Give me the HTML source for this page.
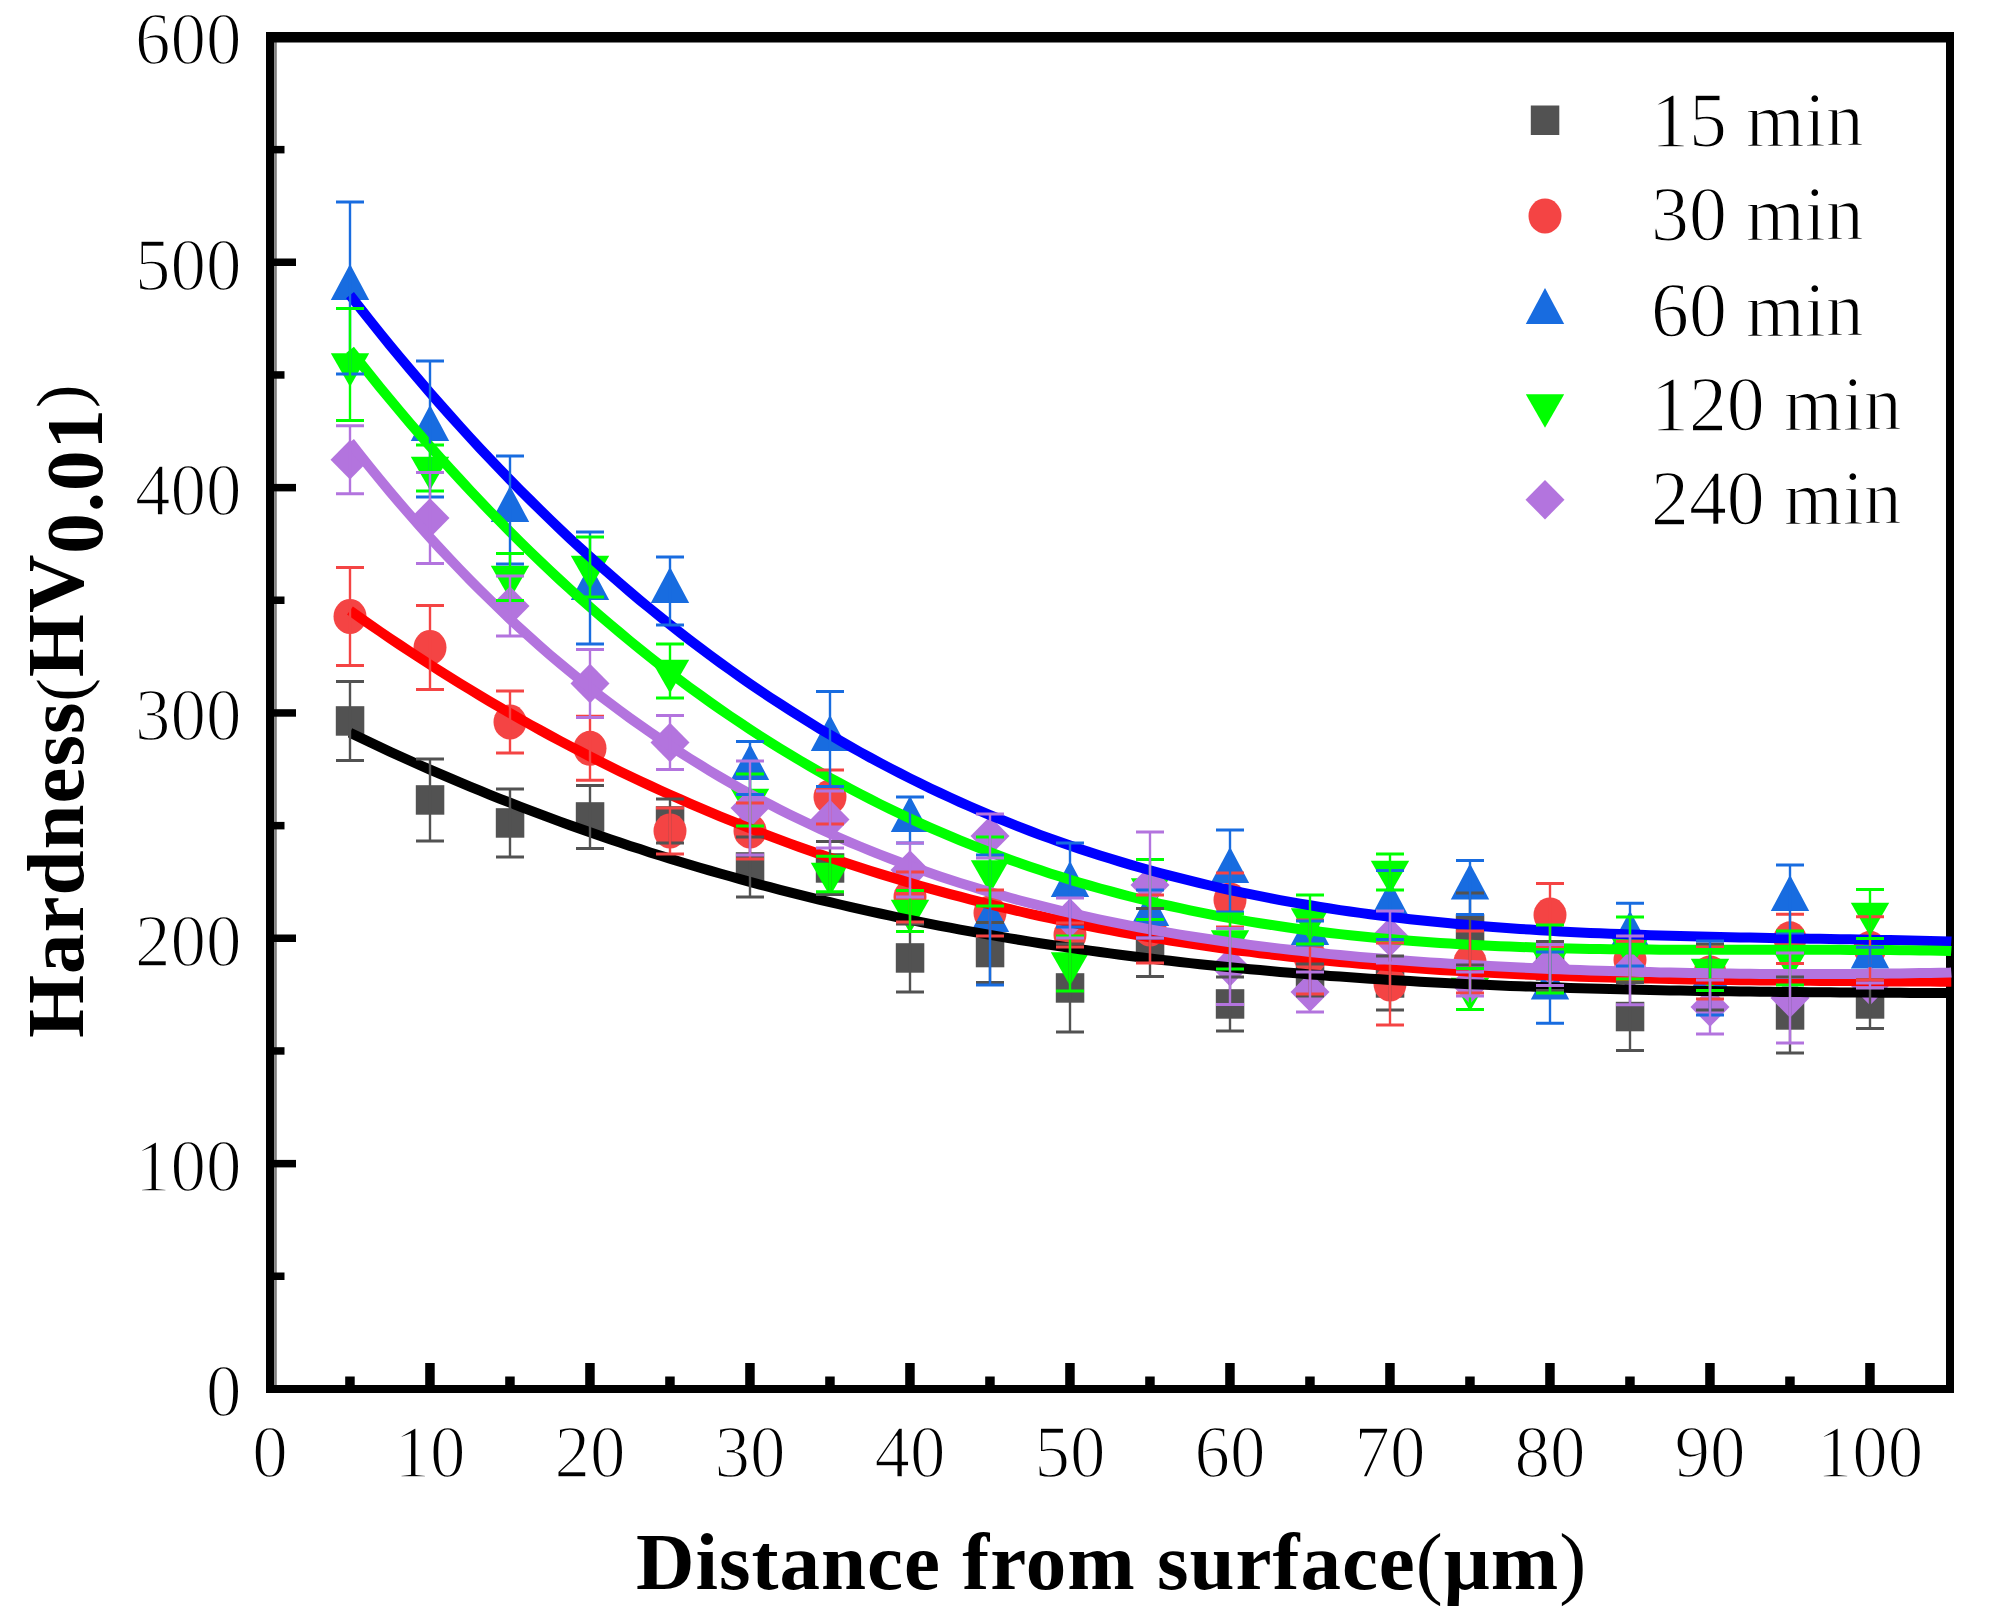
<!DOCTYPE html>
<html><head><meta charset="utf-8"><style>
html,body{margin:0;padding:0;background:#fff;}
svg{display:block;}
.tk{font-family:"Liberation Serif","Times New Roman",serif;font-size:71px;fill:#000;stroke:#fff;stroke-width:1.6px;}
.lg{font-family:"Liberation Serif","Times New Roman",serif;font-size:77px;fill:#000;stroke:#fff;stroke-width:1.4px;}
.ti{font-family:"Liberation Serif","Times New Roman",serif;font-weight:bold;font-size:81px;fill:#000;}
</style></head><body>
<svg width="1991" height="1624" viewBox="0 0 1991 1624">
<rect width="1991" height="1624" fill="#fff"/>
<g fill="#000">
<rect x="266" y="32" width="8.2" height="1361"/><rect x="274.2" y="42" width="2.6" height="1343" fill="#808080"/>
<rect x="266" y="32" width="1688" height="10.5"/>
<rect x="1946" y="32" width="8" height="1361"/>
<rect x="266" y="1385" width="1688" height="8"/>
<rect x="274" y="1272.5" width="10.5" height="7.5"/>
<rect x="274" y="1159.9" width="22" height="7.5"/>
<rect x="274" y="1047.2" width="10.5" height="7.5"/>
<rect x="274" y="934.5" width="22" height="7.5"/>
<rect x="274" y="821.9" width="10.5" height="7.5"/>
<rect x="274" y="709.2" width="22" height="7.5"/>
<rect x="274" y="596.5" width="10.5" height="7.5"/>
<rect x="274" y="483.9" width="22" height="7.5"/>
<rect x="274" y="371.2" width="10.5" height="7.5"/>
<rect x="274" y="258.5" width="22" height="7.5"/>
<rect x="274" y="145.9" width="10.5" height="7.5"/>
<rect x="345.2" y="1376.5" width="9.5" height="8.5"/>
<rect x="425.2" y="1363" width="9.5" height="22"/>
<rect x="505.2" y="1376.5" width="9.5" height="8.5"/>
<rect x="585.2" y="1363" width="9.5" height="22"/>
<rect x="665.2" y="1376.5" width="9.5" height="8.5"/>
<rect x="745.2" y="1363" width="9.5" height="22"/>
<rect x="825.2" y="1376.5" width="9.5" height="8.5"/>
<rect x="905.2" y="1363" width="9.5" height="22"/>
<rect x="985.2" y="1376.5" width="9.5" height="8.5"/>
<rect x="1065.2" y="1363" width="9.5" height="22"/>
<rect x="1145.2" y="1376.5" width="9.5" height="8.5"/>
<rect x="1225.2" y="1363" width="9.5" height="22"/>
<rect x="1305.2" y="1376.5" width="9.5" height="8.5"/>
<rect x="1385.2" y="1363" width="9.5" height="22"/>
<rect x="1465.2" y="1376.5" width="9.5" height="8.5"/>
<rect x="1545.2" y="1363" width="9.5" height="22"/>
<rect x="1625.2" y="1376.5" width="9.5" height="8.5"/>
<rect x="1705.2" y="1363" width="9.5" height="22"/>
<rect x="1785.2" y="1376.5" width="9.5" height="8.5"/>
<rect x="1865.2" y="1363" width="9.5" height="22"/>
</g>
<g><rect x="335.8" y="706.2" width="28.5" height="29.5" fill="#525252"/><rect x="415.8" y="785.2" width="28.5" height="29.5" fill="#525252"/><rect x="495.8" y="808.2" width="28.5" height="29.5" fill="#525252"/><rect x="575.8" y="802.2" width="28.5" height="29.5" fill="#525252"/><rect x="655.8" y="806.2" width="28.5" height="29.5" fill="#525252"/><rect x="735.8" y="852.2" width="28.5" height="29.5" fill="#525252"/><rect x="815.8" y="853.2" width="28.5" height="29.5" fill="#525252"/><rect x="895.8" y="943.2" width="28.5" height="29.5" fill="#525252"/><rect x="975.8" y="937.8" width="28.5" height="29.5" fill="#525252"/><rect x="1055.8" y="973.2" width="28.5" height="29.5" fill="#525252"/><rect x="1135.8" y="927.8" width="28.5" height="29.5" fill="#525252"/><rect x="1215.8" y="989.2" width="28.5" height="29.5" fill="#525252"/><rect x="1295.8" y="965.2" width="28.5" height="29.5" fill="#525252"/><rect x="1375.8" y="968.2" width="28.5" height="29.5" fill="#525252"/><rect x="1455.8" y="914.2" width="28.5" height="29.5" fill="#525252"/><rect x="1535.8" y="951.2" width="28.5" height="29.5" fill="#525252"/><rect x="1615.8" y="1001.8" width="28.5" height="29.5" fill="#525252"/><rect x="1695.8" y="962.2" width="28.5" height="29.5" fill="#525252"/><rect x="1775.8" y="1000.2" width="28.5" height="29.5" fill="#525252"/><rect x="1855.8" y="989.2" width="28.5" height="29.5" fill="#525252"/></g>
<g><ellipse cx="350.0" cy="616.5" rx="16.5" ry="17.5" fill="#f44444"/><ellipse cx="430.0" cy="647.5" rx="16.5" ry="17.5" fill="#f44444"/><ellipse cx="510.0" cy="722.0" rx="16.5" ry="17.5" fill="#f44444"/><ellipse cx="590.0" cy="748.3" rx="16.5" ry="17.5" fill="#f44444"/><ellipse cx="670.0" cy="831.0" rx="16.5" ry="17.5" fill="#f44444"/><ellipse cx="750.0" cy="831.0" rx="16.5" ry="17.5" fill="#f44444"/><ellipse cx="830.0" cy="797.0" rx="16.5" ry="17.5" fill="#f44444"/><ellipse cx="910.0" cy="897.0" rx="16.5" ry="17.5" fill="#f44444"/><ellipse cx="990.0" cy="913.0" rx="16.5" ry="17.5" fill="#f44444"/><ellipse cx="1070.0" cy="935.0" rx="16.5" ry="17.5" fill="#f44444"/><ellipse cx="1150.0" cy="929.0" rx="16.5" ry="17.5" fill="#f44444"/><ellipse cx="1230.0" cy="900.0" rx="16.5" ry="17.5" fill="#f44444"/><ellipse cx="1310.0" cy="957.0" rx="16.5" ry="17.5" fill="#f44444"/><ellipse cx="1390.0" cy="984.0" rx="16.5" ry="17.5" fill="#f44444"/><ellipse cx="1470.0" cy="962.0" rx="16.5" ry="17.5" fill="#f44444"/><ellipse cx="1550.0" cy="915.0" rx="16.5" ry="17.5" fill="#f44444"/><ellipse cx="1630.0" cy="960.0" rx="16.5" ry="17.5" fill="#f44444"/><ellipse cx="1710.0" cy="973.0" rx="16.5" ry="17.5" fill="#f44444"/><ellipse cx="1790.0" cy="938.8" rx="16.5" ry="17.5" fill="#f44444"/><ellipse cx="1870.0" cy="948.3" rx="16.5" ry="17.5" fill="#f44444"/></g>
<g><polygon points="350.0,264.1 369.2,299.9 330.8,299.9" fill="#186ce0"/><polygon points="430.0,405.1 449.2,440.9 410.8,440.9" fill="#186ce0"/><polygon points="510.0,486.1 529.2,521.9 490.8,521.9" fill="#186ce0"/><polygon points="590.0,564.1 609.2,599.9 570.8,599.9" fill="#186ce0"/><polygon points="670.0,567.1 689.2,602.9 650.8,602.9" fill="#186ce0"/><polygon points="750.0,744.1 769.2,779.9 730.8,779.9" fill="#186ce0"/><polygon points="830.0,715.1 849.2,750.9 810.8,750.9" fill="#186ce0"/><polygon points="910.0,796.1 929.2,831.9 890.8,831.9" fill="#186ce0"/><polygon points="990.0,896.1 1009.2,931.9 970.8,931.9" fill="#186ce0"/><polygon points="1070.0,861.1 1089.2,896.9 1050.8,896.9" fill="#186ce0"/><polygon points="1150.0,890.1 1169.2,925.9 1130.8,925.9" fill="#186ce0"/><polygon points="1230.0,847.1 1249.2,882.9 1210.8,882.9" fill="#186ce0"/><polygon points="1310.0,909.1 1329.2,944.9 1290.8,944.9" fill="#186ce0"/><polygon points="1390.0,881.1 1409.2,916.9 1370.8,916.9" fill="#186ce0"/><polygon points="1470.0,863.6 1489.2,899.4 1450.8,899.4" fill="#186ce0"/><polygon points="1550.0,963.8 1569.2,999.6 1530.8,999.6" fill="#186ce0"/><polygon points="1630.0,910.8 1649.2,946.6 1610.8,946.6" fill="#186ce0"/><polygon points="1710.0,954.1 1729.2,989.9 1690.8,989.9" fill="#186ce0"/><polygon points="1790.0,875.1 1809.2,910.9 1770.8,910.9" fill="#186ce0"/><polygon points="1870.0,932.6 1889.2,968.4 1850.8,968.4" fill="#186ce0"/></g>
<g><polygon points="330.8,353.3 369.2,353.3 350.0,386.8" fill="#00ff00"/><polygon points="410.8,456.8 449.2,456.8 430.0,490.3" fill="#00ff00"/><polygon points="490.8,565.8 529.2,565.8 510.0,599.3" fill="#00ff00"/><polygon points="570.8,555.8 609.2,555.8 590.0,589.3" fill="#00ff00"/><polygon points="650.8,659.8 689.2,659.8 670.0,693.3" fill="#00ff00"/><polygon points="730.8,788.8 769.2,788.8 750.0,822.3" fill="#00ff00"/><polygon points="810.8,862.8 849.2,862.8 830.0,896.3" fill="#00ff00"/><polygon points="890.8,899.8 929.2,899.8 910.0,933.3" fill="#00ff00"/><polygon points="970.8,860.3 1009.2,860.3 990.0,893.8" fill="#00ff00"/><polygon points="1050.8,952.3 1089.2,952.3 1070.0,985.8" fill="#00ff00"/><polygon points="1130.8,878.3 1169.2,878.3 1150.0,911.8" fill="#00ff00"/><polygon points="1210.8,930.3 1249.2,930.3 1230.0,963.8" fill="#00ff00"/><polygon points="1290.8,908.3 1329.2,908.3 1310.0,941.8" fill="#00ff00"/><polygon points="1370.8,860.8 1409.2,860.8 1390.0,894.3" fill="#00ff00"/><polygon points="1450.8,977.8 1489.2,977.8 1470.0,1011.3" fill="#00ff00"/><polygon points="1530.8,947.8 1569.2,947.8 1550.0,981.3" fill="#00ff00"/><polygon points="1610.8,936.8 1649.2,936.8 1630.0,970.3" fill="#00ff00"/><polygon points="1690.8,958.8 1729.2,958.8 1710.0,992.3" fill="#00ff00"/><polygon points="1770.8,946.8 1809.2,946.8 1790.0,980.3" fill="#00ff00"/><polygon points="1850.8,902.8 1889.2,902.8 1870.0,936.3" fill="#00ff00"/></g>
<g><polygon points="350.0,439.9 369.5,459.7 350.0,479.4 330.5,459.7" fill="#b374de"/><polygon points="430.0,498.2 449.5,518.0 430.0,537.8 410.5,518.0" fill="#b374de"/><polygon points="510.0,586.2 529.5,606.0 510.0,625.8 490.5,606.0" fill="#b374de"/><polygon points="590.0,663.8 609.5,683.5 590.0,703.2 570.5,683.5" fill="#b374de"/><polygon points="670.0,722.8 689.5,742.5 670.0,762.2 650.5,742.5" fill="#b374de"/><polygon points="750.0,788.2 769.5,808.0 750.0,827.8 730.5,808.0" fill="#b374de"/><polygon points="830.0,799.8 849.5,819.5 830.0,839.2 810.5,819.5" fill="#b374de"/><polygon points="910.0,850.2 929.5,870.0 910.0,889.8 890.5,870.0" fill="#b374de"/><polygon points="990.0,816.2 1009.5,836.0 990.0,855.8 970.5,836.0" fill="#b374de"/><polygon points="1070.0,898.2 1089.5,918.0 1070.0,937.8 1050.5,918.0" fill="#b374de"/><polygon points="1150.0,865.2 1169.5,885.0 1150.0,904.8 1130.5,885.0" fill="#b374de"/><polygon points="1230.0,946.9 1249.5,966.6 1230.0,986.4 1210.5,966.6" fill="#b374de"/><polygon points="1310.0,972.2 1329.5,992.0 1310.0,1011.8 1290.5,992.0" fill="#b374de"/><polygon points="1390.0,917.2 1409.5,937.0 1390.0,956.8 1370.5,937.0" fill="#b374de"/><polygon points="1470.0,964.2 1489.5,984.0 1470.0,1003.8 1450.5,984.0" fill="#b374de"/><polygon points="1550.0,945.2 1569.5,965.0 1550.0,984.8 1530.5,965.0" fill="#b374de"/><polygon points="1630.0,950.5 1649.5,970.3 1630.0,990.0 1610.5,970.3" fill="#b374de"/><polygon points="1710.0,987.2 1729.5,1007.0 1710.0,1026.8 1690.5,1007.0" fill="#b374de"/><polygon points="1790.0,978.2 1809.5,998.0 1790.0,1017.8 1770.5,998.0" fill="#b374de"/><polygon points="1870.0,965.8 1889.5,985.5 1870.0,1005.2 1850.5,985.5" fill="#b374de"/></g>
<path d="M350.0,732.8 L360.0,737.6 L370.0,742.3 L380.0,747.0 L390.0,751.7 L400.0,756.2 L410.0,760.7 L420.0,765.2 L430.0,769.6 L440.0,773.9 L450.0,778.2 L460.0,782.4 L470.0,786.6 L480.0,790.7 L490.0,794.8 L500.0,798.8 L510.0,802.7 L520.0,806.6 L530.0,810.4 L540.0,814.2 L550.0,817.9 L560.0,821.6 L570.0,825.2 L580.0,828.8 L590.0,832.3 L600.0,835.8 L610.0,839.2 L620.0,842.6 L630.0,845.9 L640.0,849.1 L650.0,852.4 L660.0,855.5 L670.0,858.6 L680.0,861.7 L690.0,864.7 L700.0,867.7 L710.0,870.6 L720.0,873.5 L730.0,876.3 L740.0,879.1 L750.0,881.9 L760.0,884.6 L770.0,887.2 L780.0,889.8 L790.0,892.4 L800.0,894.9 L810.0,897.4 L820.0,899.8 L830.0,902.2 L840.0,904.5 L850.0,906.8 L860.0,909.1 L870.0,911.3 L880.0,913.5 L890.0,915.7 L900.0,917.8 L910.0,919.8 L920.0,921.8 L930.0,923.8 L940.0,925.8 L950.0,927.7 L960.0,929.6 L970.0,931.4 L980.0,933.2 L990.0,934.9 L1000.0,936.7 L1010.0,938.4 L1020.0,940.0 L1030.0,941.6 L1040.0,943.2 L1050.0,944.8 L1060.0,946.3 L1070.0,947.8 L1080.0,949.2 L1090.0,950.6 L1100.0,952.0 L1110.0,953.4 L1120.0,954.7 L1130.0,956.0 L1140.0,957.2 L1150.0,958.5 L1160.0,959.7 L1170.0,960.8 L1180.0,962.0 L1190.0,963.1 L1200.0,964.2 L1210.0,965.2 L1220.0,966.3 L1230.0,967.3 L1240.0,968.2 L1250.0,969.2 L1260.0,970.1 L1270.0,971.0 L1280.0,971.9 L1290.0,972.7 L1300.0,973.6 L1310.0,974.4 L1320.0,975.1 L1330.0,975.9 L1340.0,976.6 L1350.0,977.3 L1360.0,978.0 L1370.0,978.7 L1380.0,979.3 L1390.0,979.9 L1400.0,980.5 L1410.0,981.1 L1420.0,981.7 L1430.0,982.2 L1440.0,982.7 L1450.0,983.2 L1460.0,983.7 L1470.0,984.2 L1480.0,984.6 L1490.0,985.1 L1500.0,985.5 L1510.0,985.9 L1520.0,986.3 L1530.0,986.6 L1540.0,987.0 L1550.0,987.3 L1560.0,987.6 L1570.0,988.0 L1580.0,988.3 L1590.0,988.5 L1600.0,988.8 L1610.0,989.1 L1620.0,989.3 L1630.0,989.5 L1640.0,989.8 L1650.0,990.0 L1660.0,990.2 L1670.0,990.4 L1680.0,990.5 L1690.0,990.7 L1700.0,990.9 L1710.0,991.0 L1720.0,991.2 L1730.0,991.3 L1740.0,991.4 L1750.0,991.6 L1760.0,991.7 L1770.0,991.8 L1780.0,991.9 L1790.0,992.0 L1800.0,992.1 L1810.0,992.2 L1820.0,992.3 L1830.0,992.3 L1840.0,992.4 L1850.0,992.5 L1860.0,992.6 L1870.0,992.6 L1880.0,992.7 L1890.0,992.8 L1900.0,992.8 L1910.0,992.9 L1920.0,993.0 L1930.0,993.0 L1940.0,993.1 L1950.0,993.1 L1951.3,993.1" fill="none" stroke="#000000" stroke-width="10" stroke-linejoin="round"/>
<path d="M350.0,610.5 L360.0,617.6 L370.0,624.6 L380.0,631.5 L390.0,638.3 L400.0,645.0 L410.0,651.6 L420.0,658.2 L430.0,664.6 L440.0,671.0 L450.0,677.3 L460.0,683.5 L470.0,689.6 L480.0,695.6 L490.0,701.6 L500.0,707.4 L510.0,713.2 L520.0,718.9 L530.0,724.5 L540.0,730.0 L550.0,735.5 L560.0,740.8 L570.0,746.1 L580.0,751.3 L590.0,756.5 L600.0,761.5 L610.0,766.5 L620.0,771.4 L630.0,776.2 L640.0,781.0 L650.0,785.6 L660.0,790.2 L670.0,794.8 L680.0,799.2 L690.0,803.6 L700.0,807.9 L710.0,812.1 L720.0,816.3 L730.0,820.4 L740.0,824.4 L750.0,828.4 L760.0,832.3 L770.0,836.1 L780.0,839.9 L790.0,843.6 L800.0,847.2 L810.0,850.7 L820.0,854.2 L830.0,857.7 L840.0,861.0 L850.0,864.3 L860.0,867.6 L870.0,870.8 L880.0,873.9 L890.0,876.9 L900.0,879.9 L910.0,882.9 L920.0,885.8 L930.0,888.6 L940.0,891.3 L950.0,894.1 L960.0,896.7 L970.0,899.3 L980.0,901.8 L990.0,904.3 L1000.0,906.8 L1010.0,909.2 L1020.0,911.5 L1030.0,913.8 L1040.0,916.0 L1050.0,918.2 L1060.0,920.3 L1070.0,922.4 L1080.0,924.4 L1090.0,926.4 L1100.0,928.3 L1110.0,930.2 L1120.0,932.0 L1130.0,933.8 L1140.0,935.6 L1150.0,937.3 L1160.0,938.9 L1170.0,940.5 L1180.0,942.1 L1190.0,943.6 L1200.0,945.1 L1210.0,946.6 L1220.0,948.0 L1230.0,949.3 L1240.0,950.7 L1250.0,951.9 L1260.0,953.2 L1270.0,954.4 L1280.0,955.6 L1290.0,956.7 L1300.0,957.8 L1310.0,958.9 L1320.0,959.9 L1330.0,960.9 L1340.0,961.9 L1350.0,962.8 L1360.0,963.7 L1370.0,964.6 L1380.0,965.4 L1390.0,966.2 L1400.0,967.0 L1410.0,967.8 L1420.0,968.5 L1430.0,969.2 L1440.0,969.9 L1450.0,970.5 L1460.0,971.1 L1470.0,971.7 L1480.0,972.3 L1490.0,972.8 L1500.0,973.3 L1510.0,973.8 L1520.0,974.3 L1530.0,974.7 L1540.0,975.1 L1550.0,975.6 L1560.0,975.9 L1570.0,976.3 L1580.0,976.7 L1590.0,977.0 L1600.0,977.3 L1610.0,977.6 L1620.0,977.9 L1630.0,978.1 L1640.0,978.4 L1650.0,978.6 L1660.0,978.8 L1670.0,979.0 L1680.0,979.2 L1690.0,979.4 L1700.0,979.6 L1710.0,979.7 L1720.0,979.9 L1730.0,980.0 L1740.0,980.2 L1750.0,980.3 L1760.0,980.4 L1770.0,980.5 L1780.0,980.6 L1790.0,980.7 L1800.0,980.8 L1810.0,980.8 L1820.0,980.9 L1830.0,981.0 L1840.0,981.1 L1850.0,981.1 L1860.0,981.2 L1870.0,981.3 L1880.0,981.3 L1890.0,981.4 L1900.0,981.4 L1910.0,981.5 L1920.0,981.6 L1930.0,981.6 L1940.0,981.7 L1950.0,981.8 L1951.3,981.8" fill="none" stroke="#ff0000" stroke-width="10" stroke-linejoin="round"/>
<path d="M350.0,295.1 L360.0,307.9 L370.0,320.5 L380.0,333.0 L390.0,345.3 L400.0,357.4 L410.0,369.3 L420.0,381.1 L430.0,392.7 L440.0,404.1 L450.0,415.4 L460.0,426.5 L470.0,437.5 L480.0,448.3 L490.0,458.9 L500.0,469.4 L510.0,479.7 L520.0,489.9 L530.0,499.9 L540.0,509.8 L550.0,519.5 L560.0,529.0 L570.0,538.5 L580.0,547.7 L590.0,556.8 L600.0,565.8 L610.0,574.6 L620.0,583.3 L630.0,591.9 L640.0,600.3 L650.0,608.5 L660.0,616.7 L670.0,624.7 L680.0,632.5 L690.0,640.2 L700.0,647.8 L710.0,655.3 L720.0,662.6 L730.0,669.8 L740.0,676.8 L750.0,683.8 L760.0,690.6 L770.0,697.3 L780.0,703.8 L790.0,710.3 L800.0,716.6 L810.0,722.8 L820.0,728.9 L830.0,734.8 L840.0,740.6 L850.0,746.4 L860.0,752.0 L870.0,757.5 L880.0,762.9 L890.0,768.1 L900.0,773.3 L910.0,778.4 L920.0,783.3 L930.0,788.2 L940.0,792.9 L950.0,797.5 L960.0,802.1 L970.0,806.5 L980.0,810.8 L990.0,815.1 L1000.0,819.2 L1010.0,823.2 L1020.0,827.2 L1030.0,831.0 L1040.0,834.8 L1050.0,838.4 L1060.0,842.0 L1070.0,845.5 L1080.0,848.9 L1090.0,852.2 L1100.0,855.4 L1110.0,858.5 L1120.0,861.6 L1130.0,864.6 L1140.0,867.5 L1150.0,870.3 L1160.0,873.0 L1170.0,875.7 L1180.0,878.2 L1190.0,880.7 L1200.0,883.2 L1210.0,885.5 L1220.0,887.8 L1230.0,890.0 L1240.0,892.2 L1250.0,894.2 L1260.0,896.2 L1270.0,898.2 L1280.0,900.1 L1290.0,901.9 L1300.0,903.6 L1310.0,905.3 L1320.0,907.0 L1330.0,908.5 L1340.0,910.1 L1350.0,911.5 L1360.0,912.9 L1370.0,914.3 L1380.0,915.6 L1390.0,916.8 L1400.0,918.0 L1410.0,919.2 L1420.0,920.3 L1430.0,921.3 L1440.0,922.3 L1450.0,923.3 L1460.0,924.2 L1470.0,925.1 L1480.0,926.0 L1490.0,926.8 L1500.0,927.5 L1510.0,928.2 L1520.0,928.9 L1530.0,929.6 L1540.0,930.2 L1550.0,930.8 L1560.0,931.4 L1570.0,931.9 L1580.0,932.4 L1590.0,932.9 L1600.0,933.3 L1610.0,933.7 L1620.0,934.1 L1630.0,934.5 L1640.0,934.8 L1650.0,935.2 L1660.0,935.5 L1670.0,935.8 L1680.0,936.1 L1690.0,936.3 L1700.0,936.6 L1710.0,936.8 L1720.0,937.0 L1730.0,937.2 L1740.0,937.4 L1750.0,937.6 L1760.0,937.8 L1770.0,938.0 L1780.0,938.2 L1790.0,938.3 L1800.0,938.5 L1810.0,938.7 L1820.0,938.8 L1830.0,939.0 L1840.0,939.2 L1850.0,939.3 L1860.0,939.5 L1870.0,939.7 L1880.0,939.9 L1890.0,940.1 L1900.0,940.3 L1910.0,940.5 L1920.0,940.8 L1930.0,941.0 L1940.0,941.3 L1950.0,941.5 L1951.3,941.6" fill="none" stroke="#0000ff" stroke-width="10" stroke-linejoin="round"/>
<path d="M350.0,349.8 L360.0,362.4 L370.0,374.9 L380.0,387.3 L390.0,399.4 L400.0,411.4 L410.0,423.2 L420.0,434.8 L430.0,446.2 L440.0,457.5 L450.0,468.6 L460.0,479.5 L470.0,490.3 L480.0,500.9 L490.0,511.4 L500.0,521.6 L510.0,531.8 L520.0,541.7 L530.0,551.5 L540.0,561.1 L550.0,570.6 L560.0,580.0 L570.0,589.1 L580.0,598.2 L590.0,607.0 L600.0,615.7 L610.0,624.3 L620.0,632.7 L630.0,641.0 L640.0,649.1 L650.0,657.1 L660.0,665.0 L670.0,672.7 L680.0,680.2 L690.0,687.7 L700.0,694.9 L710.0,702.1 L720.0,709.1 L730.0,716.0 L740.0,722.7 L750.0,729.4 L760.0,735.9 L770.0,742.2 L780.0,748.4 L790.0,754.6 L800.0,760.5 L810.0,766.4 L820.0,772.1 L830.0,777.8 L840.0,783.2 L850.0,788.6 L860.0,793.9 L870.0,799.0 L880.0,804.1 L890.0,809.0 L900.0,813.8 L910.0,818.5 L920.0,823.1 L930.0,827.6 L940.0,831.9 L950.0,836.2 L960.0,840.4 L970.0,844.4 L980.0,848.4 L990.0,852.2 L1000.0,856.0 L1010.0,859.7 L1020.0,863.2 L1030.0,866.7 L1040.0,870.1 L1050.0,873.4 L1060.0,876.6 L1070.0,879.7 L1080.0,882.7 L1090.0,885.6 L1100.0,888.5 L1110.0,891.2 L1120.0,893.9 L1130.0,896.5 L1140.0,899.0 L1150.0,901.4 L1160.0,903.8 L1170.0,906.0 L1180.0,908.2 L1190.0,910.4 L1200.0,912.4 L1210.0,914.4 L1220.0,916.3 L1230.0,918.1 L1240.0,919.9 L1250.0,921.6 L1260.0,923.2 L1270.0,924.8 L1280.0,926.3 L1290.0,927.8 L1300.0,929.2 L1310.0,930.5 L1320.0,931.8 L1330.0,933.0 L1340.0,934.1 L1350.0,935.2 L1360.0,936.3 L1370.0,937.3 L1380.0,938.2 L1390.0,939.1 L1400.0,940.0 L1410.0,940.8 L1420.0,941.6 L1430.0,942.3 L1440.0,943.0 L1450.0,943.6 L1460.0,944.2 L1470.0,944.7 L1480.0,945.3 L1490.0,945.7 L1500.0,946.2 L1510.0,946.6 L1520.0,947.0 L1530.0,947.3 L1540.0,947.7 L1550.0,948.0 L1560.0,948.2 L1570.0,948.5 L1580.0,948.7 L1590.0,948.9 L1600.0,949.0 L1610.0,949.2 L1620.0,949.3 L1630.0,949.4 L1640.0,949.5 L1650.0,949.6 L1660.0,949.7 L1670.0,949.7 L1680.0,949.7 L1690.0,949.8 L1700.0,949.8 L1710.0,949.8 L1720.0,949.8 L1730.0,949.8 L1740.0,949.8 L1750.0,949.8 L1760.0,949.8 L1770.0,949.8 L1780.0,949.8 L1790.0,949.8 L1800.0,949.8 L1810.0,949.8 L1820.0,949.8 L1830.0,949.8 L1840.0,949.8 L1850.0,949.9 L1860.0,949.9 L1870.0,950.0 L1880.0,950.0 L1890.0,950.1 L1900.0,950.2 L1910.0,950.3 L1920.0,950.5 L1930.0,950.6 L1940.0,950.8 L1950.0,951.0 L1951.3,951.1" fill="none" stroke="#00ff00" stroke-width="10" stroke-linejoin="round"/>
<path d="M350.0,442.1 L360.0,454.9 L370.0,467.4 L380.0,479.7 L390.0,491.7 L400.0,503.5 L410.0,515.1 L420.0,526.4 L430.0,537.6 L440.0,548.5 L450.0,559.2 L460.0,569.6 L470.0,579.9 L480.0,590.0 L490.0,599.8 L500.0,609.5 L510.0,619.0 L520.0,628.2 L530.0,637.3 L540.0,646.2 L550.0,654.9 L560.0,663.4 L570.0,671.7 L580.0,679.9 L590.0,687.9 L600.0,695.7 L610.0,703.3 L620.0,710.8 L630.0,718.1 L640.0,725.2 L650.0,732.2 L660.0,739.0 L670.0,745.7 L680.0,752.2 L690.0,758.6 L700.0,764.8 L710.0,770.9 L720.0,776.9 L730.0,782.7 L740.0,788.3 L750.0,793.9 L760.0,799.3 L770.0,804.5 L780.0,809.7 L790.0,814.7 L800.0,819.6 L810.0,824.3 L820.0,829.0 L830.0,833.5 L840.0,838.0 L850.0,842.3 L860.0,846.5 L870.0,850.6 L880.0,854.6 L890.0,858.5 L900.0,862.2 L910.0,865.9 L920.0,869.5 L930.0,873.0 L940.0,876.4 L950.0,879.7 L960.0,882.9 L970.0,886.1 L980.0,889.1 L990.0,892.1 L1000.0,894.9 L1010.0,897.7 L1020.0,900.5 L1030.0,903.1 L1040.0,905.7 L1050.0,908.2 L1060.0,910.6 L1070.0,912.9 L1080.0,915.2 L1090.0,917.4 L1100.0,919.6 L1110.0,921.7 L1120.0,923.7 L1130.0,925.6 L1140.0,927.5 L1150.0,929.4 L1160.0,931.2 L1170.0,932.9 L1180.0,934.6 L1190.0,936.2 L1200.0,937.8 L1210.0,939.3 L1220.0,940.7 L1230.0,942.2 L1240.0,943.5 L1250.0,944.9 L1260.0,946.2 L1270.0,947.4 L1280.0,948.6 L1290.0,949.8 L1300.0,950.9 L1310.0,952.0 L1320.0,953.0 L1330.0,954.1 L1340.0,955.0 L1350.0,956.0 L1360.0,956.9 L1370.0,957.8 L1380.0,958.6 L1390.0,959.4 L1400.0,960.2 L1410.0,961.0 L1420.0,961.7 L1430.0,962.4 L1440.0,963.1 L1450.0,963.7 L1460.0,964.3 L1470.0,964.9 L1480.0,965.5 L1490.0,966.0 L1500.0,966.6 L1510.0,967.1 L1520.0,967.6 L1530.0,968.0 L1540.0,968.5 L1550.0,968.9 L1560.0,969.3 L1570.0,969.7 L1580.0,970.1 L1590.0,970.4 L1600.0,970.7 L1610.0,971.0 L1620.0,971.3 L1630.0,971.6 L1640.0,971.9 L1650.0,972.1 L1660.0,972.4 L1670.0,972.6 L1680.0,972.8 L1690.0,973.0 L1700.0,973.1 L1710.0,973.3 L1720.0,973.4 L1730.0,973.6 L1740.0,973.7 L1750.0,973.8 L1760.0,973.9 L1770.0,973.9 L1780.0,974.0 L1790.0,974.0 L1800.0,974.0 L1810.0,974.0 L1820.0,974.0 L1830.0,974.0 L1840.0,974.0 L1850.0,973.9 L1860.0,973.9 L1870.0,973.8 L1880.0,973.7 L1890.0,973.6 L1900.0,973.4 L1910.0,973.3 L1920.0,973.1 L1930.0,972.9 L1940.0,972.7 L1950.0,972.5 L1951.3,972.4" fill="none" stroke="#b374de" stroke-width="10" stroke-linejoin="round"/>
<g><path d="M350.0,681.5 V760.5" stroke="#525252" stroke-width="2.4"/><path d="M336.0,681.5 H364.0 M336.0,760.5 H364.0" stroke="#525252" stroke-width="3"/><path d="M430.0,759.0 V841.0" stroke="#525252" stroke-width="2.4"/><path d="M416.0,759.0 H444.0 M416.0,841.0 H444.0" stroke="#525252" stroke-width="3"/><path d="M510.0,789.0 V857.0" stroke="#525252" stroke-width="2.4"/><path d="M496.0,789.0 H524.0 M496.0,857.0 H524.0" stroke="#525252" stroke-width="3"/><path d="M590.0,785.5 V848.5" stroke="#525252" stroke-width="2.4"/><path d="M576.0,785.5 H604.0 M576.0,848.5 H604.0" stroke="#525252" stroke-width="3"/><path d="M670.0,799.0 V843.0" stroke="#525252" stroke-width="2.4"/><path d="M656.0,799.0 H684.0 M656.0,843.0 H684.0" stroke="#525252" stroke-width="3"/><path d="M750.0,837.0 V897.0" stroke="#525252" stroke-width="2.4"/><path d="M736.0,837.0 H764.0 M736.0,897.0 H764.0" stroke="#525252" stroke-width="3"/><path d="M830.0,841.5 V894.5" stroke="#525252" stroke-width="2.4"/><path d="M816.0,841.5 H844.0 M816.0,894.5 H844.0" stroke="#525252" stroke-width="3"/><path d="M910.0,924.0 V992.0" stroke="#525252" stroke-width="2.4"/><path d="M896.0,924.0 H924.0 M896.0,992.0 H924.0" stroke="#525252" stroke-width="3"/><path d="M990.0,922.5 V982.5" stroke="#525252" stroke-width="2.4"/><path d="M976.0,922.5 H1004.0 M976.0,982.5 H1004.0" stroke="#525252" stroke-width="3"/><path d="M1070.0,944.0 V1032.0" stroke="#525252" stroke-width="2.4"/><path d="M1056.0,944.0 H1084.0 M1056.0,1032.0 H1084.0" stroke="#525252" stroke-width="3"/><path d="M1150.0,908.5 V976.5" stroke="#525252" stroke-width="2.4"/><path d="M1136.0,908.5 H1164.0 M1136.0,976.5 H1164.0" stroke="#525252" stroke-width="3"/><path d="M1230.0,977.0 V1031.0" stroke="#525252" stroke-width="2.4"/><path d="M1216.0,977.0 H1244.0 M1216.0,1031.0 H1244.0" stroke="#525252" stroke-width="3"/><path d="M1310.0,964.0 V996.0" stroke="#525252" stroke-width="2.4"/><path d="M1296.0,964.0 H1324.0 M1296.0,996.0 H1324.0" stroke="#525252" stroke-width="3"/><path d="M1390.0,956.0 V1010.0" stroke="#525252" stroke-width="2.4"/><path d="M1376.0,956.0 H1404.0 M1376.0,1010.0 H1404.0" stroke="#525252" stroke-width="3"/><path d="M1470.0,893.0 V965.0" stroke="#525252" stroke-width="2.4"/><path d="M1456.0,893.0 H1484.0 M1456.0,965.0 H1484.0" stroke="#525252" stroke-width="3"/><path d="M1550.0,941.5 V990.5" stroke="#525252" stroke-width="2.4"/><path d="M1536.0,941.5 H1564.0 M1536.0,990.5 H1564.0" stroke="#525252" stroke-width="3"/><path d="M1630.0,982.5 V1050.5" stroke="#525252" stroke-width="2.4"/><path d="M1616.0,982.5 H1644.0 M1616.0,1050.5 H1644.0" stroke="#525252" stroke-width="3"/><path d="M1710.0,944.0 V1010.0" stroke="#525252" stroke-width="2.4"/><path d="M1696.0,944.0 H1724.0 M1696.0,1010.0 H1724.0" stroke="#525252" stroke-width="3"/><path d="M1790.0,977.0 V1053.0" stroke="#525252" stroke-width="2.4"/><path d="M1776.0,977.0 H1804.0 M1776.0,1053.0 H1804.0" stroke="#525252" stroke-width="3"/><path d="M1870.0,979.5 V1028.5" stroke="#525252" stroke-width="2.4"/><path d="M1856.0,979.5 H1884.0 M1856.0,1028.5 H1884.0" stroke="#525252" stroke-width="3"/></g>
<g><path d="M350.0,567.5 V665.5" stroke="#f44444" stroke-width="2.4"/><path d="M336.0,567.5 H364.0 M336.0,665.5 H364.0" stroke="#f44444" stroke-width="3"/><path d="M430.0,605.5 V689.5" stroke="#f44444" stroke-width="2.4"/><path d="M416.0,605.5 H444.0 M416.0,689.5 H444.0" stroke="#f44444" stroke-width="3"/><path d="M510.0,691.0 V753.0" stroke="#f44444" stroke-width="2.4"/><path d="M496.0,691.0 H524.0 M496.0,753.0 H524.0" stroke="#f44444" stroke-width="3"/><path d="M590.0,716.3 V780.3" stroke="#f44444" stroke-width="2.4"/><path d="M576.0,716.3 H604.0 M576.0,780.3 H604.0" stroke="#f44444" stroke-width="3"/><path d="M670.0,808.0 V854.0" stroke="#f44444" stroke-width="2.4"/><path d="M656.0,808.0 H684.0 M656.0,854.0 H684.0" stroke="#f44444" stroke-width="3"/><path d="M750.0,803.0 V859.0" stroke="#f44444" stroke-width="2.4"/><path d="M736.0,803.0 H764.0 M736.0,859.0 H764.0" stroke="#f44444" stroke-width="3"/><path d="M830.0,770.0 V824.0" stroke="#f44444" stroke-width="2.4"/><path d="M816.0,770.0 H844.0 M816.0,824.0 H844.0" stroke="#f44444" stroke-width="3"/><path d="M910.0,872.0 V922.0" stroke="#f44444" stroke-width="2.4"/><path d="M896.0,872.0 H924.0 M896.0,922.0 H924.0" stroke="#f44444" stroke-width="3"/><path d="M990.0,890.0 V936.0" stroke="#f44444" stroke-width="2.4"/><path d="M976.0,890.0 H1004.0 M976.0,936.0 H1004.0" stroke="#f44444" stroke-width="3"/><path d="M1070.0,923.0 V947.0" stroke="#f44444" stroke-width="2.4"/><path d="M1056.0,923.0 H1084.0 M1056.0,947.0 H1084.0" stroke="#f44444" stroke-width="3"/><path d="M1150.0,895.0 V963.0" stroke="#f44444" stroke-width="2.4"/><path d="M1136.0,895.0 H1164.0 M1136.0,963.0 H1164.0" stroke="#f44444" stroke-width="3"/><path d="M1230.0,873.0 V927.0" stroke="#f44444" stroke-width="2.4"/><path d="M1216.0,873.0 H1244.0 M1216.0,927.0 H1244.0" stroke="#f44444" stroke-width="3"/><path d="M1310.0,920.0 V994.0" stroke="#f44444" stroke-width="2.4"/><path d="M1296.0,920.0 H1324.0 M1296.0,994.0 H1324.0" stroke="#f44444" stroke-width="3"/><path d="M1390.0,943.0 V1025.0" stroke="#f44444" stroke-width="2.4"/><path d="M1376.0,943.0 H1404.0 M1376.0,1025.0 H1404.0" stroke="#f44444" stroke-width="3"/><path d="M1470.0,931.0 V993.0" stroke="#f44444" stroke-width="2.4"/><path d="M1456.0,931.0 H1484.0 M1456.0,993.0 H1484.0" stroke="#f44444" stroke-width="3"/><path d="M1550.0,883.5 V946.5" stroke="#f44444" stroke-width="2.4"/><path d="M1536.0,883.5 H1564.0 M1536.0,946.5 H1564.0" stroke="#f44444" stroke-width="3"/><path d="M1630.0,941.3 V978.7" stroke="#f44444" stroke-width="2.4"/><path d="M1616.0,941.3 H1644.0 M1616.0,978.7 H1644.0" stroke="#f44444" stroke-width="3"/><path d="M1710.0,947.0 V999.0" stroke="#f44444" stroke-width="2.4"/><path d="M1696.0,947.0 H1724.0 M1696.0,999.0 H1724.0" stroke="#f44444" stroke-width="3"/><path d="M1790.0,914.2 V963.4" stroke="#f44444" stroke-width="2.4"/><path d="M1776.0,914.2 H1804.0 M1776.0,963.4 H1804.0" stroke="#f44444" stroke-width="3"/><path d="M1870.0,916.8 V979.8" stroke="#f44444" stroke-width="2.4"/><path d="M1856.0,916.8 H1884.0 M1856.0,979.8 H1884.0" stroke="#f44444" stroke-width="3"/></g>
<g><path d="M350.0,202.0 V374.0" stroke="#186ce0" stroke-width="2.4"/><path d="M336.0,202.0 H364.0 M336.0,374.0 H364.0" stroke="#186ce0" stroke-width="3"/><path d="M430.0,361.0 V497.0" stroke="#186ce0" stroke-width="2.4"/><path d="M416.0,361.0 H444.0 M416.0,497.0 H444.0" stroke="#186ce0" stroke-width="3"/><path d="M510.0,456.0 V564.0" stroke="#186ce0" stroke-width="2.4"/><path d="M496.0,456.0 H524.0 M496.0,564.0 H524.0" stroke="#186ce0" stroke-width="3"/><path d="M590.0,532.0 V644.0" stroke="#186ce0" stroke-width="2.4"/><path d="M576.0,532.0 H604.0 M576.0,644.0 H604.0" stroke="#186ce0" stroke-width="3"/><path d="M670.0,557.0 V625.0" stroke="#186ce0" stroke-width="2.4"/><path d="M656.0,557.0 H684.0 M656.0,625.0 H684.0" stroke="#186ce0" stroke-width="3"/><path d="M750.0,741.5 V794.5" stroke="#186ce0" stroke-width="2.4"/><path d="M736.0,741.5 H764.0 M736.0,794.5 H764.0" stroke="#186ce0" stroke-width="3"/><path d="M830.0,691.5 V786.5" stroke="#186ce0" stroke-width="2.4"/><path d="M816.0,691.5 H844.0 M816.0,786.5 H844.0" stroke="#186ce0" stroke-width="3"/><path d="M910.0,797.0 V843.0" stroke="#186ce0" stroke-width="2.4"/><path d="M896.0,797.0 H924.0 M896.0,843.0 H924.0" stroke="#186ce0" stroke-width="3"/><path d="M990.0,855.0 V985.0" stroke="#186ce0" stroke-width="2.4"/><path d="M976.0,855.0 H1004.0 M976.0,985.0 H1004.0" stroke="#186ce0" stroke-width="3"/><path d="M1070.0,843.0 V927.0" stroke="#186ce0" stroke-width="2.4"/><path d="M1056.0,843.0 H1084.0 M1056.0,927.0 H1084.0" stroke="#186ce0" stroke-width="3"/><path d="M1150.0,890.0 V938.0" stroke="#186ce0" stroke-width="2.4"/><path d="M1136.0,890.0 H1164.0 M1136.0,938.0 H1164.0" stroke="#186ce0" stroke-width="3"/><path d="M1230.0,830.0 V912.0" stroke="#186ce0" stroke-width="2.4"/><path d="M1216.0,830.0 H1244.0 M1216.0,912.0 H1244.0" stroke="#186ce0" stroke-width="3"/><path d="M1310.0,921.0 V945.0" stroke="#186ce0" stroke-width="2.4"/><path d="M1296.0,921.0 H1324.0 M1296.0,945.0 H1324.0" stroke="#186ce0" stroke-width="3"/><path d="M1390.0,870.5 V939.5" stroke="#186ce0" stroke-width="2.4"/><path d="M1376.0,870.5 H1404.0 M1376.0,939.5 H1404.0" stroke="#186ce0" stroke-width="3"/><path d="M1470.0,860.5 V914.5" stroke="#186ce0" stroke-width="2.4"/><path d="M1456.0,860.5 H1484.0 M1456.0,914.5 H1484.0" stroke="#186ce0" stroke-width="3"/><path d="M1550.0,952.1 V1023.3" stroke="#186ce0" stroke-width="2.4"/><path d="M1536.0,952.1 H1564.0 M1536.0,1023.3 H1564.0" stroke="#186ce0" stroke-width="3"/><path d="M1630.0,903.3 V966.1" stroke="#186ce0" stroke-width="2.4"/><path d="M1616.0,903.3 H1644.0 M1616.0,966.1 H1644.0" stroke="#186ce0" stroke-width="3"/><path d="M1710.0,941.0 V1015.0" stroke="#186ce0" stroke-width="2.4"/><path d="M1696.0,941.0 H1724.0 M1696.0,1015.0 H1724.0" stroke="#186ce0" stroke-width="3"/><path d="M1790.0,865.0 V933.0" stroke="#186ce0" stroke-width="2.4"/><path d="M1776.0,865.0 H1804.0 M1776.0,933.0 H1804.0" stroke="#186ce0" stroke-width="3"/><path d="M1870.0,947.2 V965.8" stroke="#186ce0" stroke-width="2.4"/><path d="M1856.0,947.2 H1884.0 M1856.0,965.8 H1884.0" stroke="#186ce0" stroke-width="3"/></g>
<g><path d="M350.0,308.5 V420.5" stroke="#00ff00" stroke-width="2.4"/><path d="M336.0,308.5 H364.0 M336.0,420.5 H364.0" stroke="#00ff00" stroke-width="3"/><path d="M430.0,445.0 V491.0" stroke="#00ff00" stroke-width="2.4"/><path d="M416.0,445.0 H444.0 M416.0,491.0 H444.0" stroke="#00ff00" stroke-width="3"/><path d="M510.0,553.5 V600.5" stroke="#00ff00" stroke-width="2.4"/><path d="M496.0,553.5 H524.0 M496.0,600.5 H524.0" stroke="#00ff00" stroke-width="3"/><path d="M590.0,537.0 V597.0" stroke="#00ff00" stroke-width="2.4"/><path d="M576.0,537.0 H604.0 M576.0,597.0 H604.0" stroke="#00ff00" stroke-width="3"/><path d="M670.0,644.0 V698.0" stroke="#00ff00" stroke-width="2.4"/><path d="M656.0,644.0 H684.0 M656.0,698.0 H684.0" stroke="#00ff00" stroke-width="3"/><path d="M750.0,774.0 V826.0" stroke="#00ff00" stroke-width="2.4"/><path d="M736.0,774.0 H764.0 M736.0,826.0 H764.0" stroke="#00ff00" stroke-width="3"/><path d="M830.0,856.3 V891.7" stroke="#00ff00" stroke-width="2.4"/><path d="M816.0,856.3 H844.0 M816.0,891.7 H844.0" stroke="#00ff00" stroke-width="3"/><path d="M910.0,890.5 V931.5" stroke="#00ff00" stroke-width="2.4"/><path d="M896.0,890.5 H924.0 M896.0,931.5 H924.0" stroke="#00ff00" stroke-width="3"/><path d="M990.0,837.0 V906.0" stroke="#00ff00" stroke-width="2.4"/><path d="M976.0,837.0 H1004.0 M976.0,906.0 H1004.0" stroke="#00ff00" stroke-width="3"/><path d="M1070.0,936.0 V991.0" stroke="#00ff00" stroke-width="2.4"/><path d="M1056.0,936.0 H1084.0 M1056.0,991.0 H1084.0" stroke="#00ff00" stroke-width="3"/><path d="M1150.0,859.5 V919.5" stroke="#00ff00" stroke-width="2.4"/><path d="M1136.0,859.5 H1164.0 M1136.0,919.5 H1164.0" stroke="#00ff00" stroke-width="3"/><path d="M1230.0,914.0 V969.0" stroke="#00ff00" stroke-width="2.4"/><path d="M1216.0,914.0 H1244.0 M1216.0,969.0 H1244.0" stroke="#00ff00" stroke-width="3"/><path d="M1310.0,895.0 V944.0" stroke="#00ff00" stroke-width="2.4"/><path d="M1296.0,895.0 H1324.0 M1296.0,944.0 H1324.0" stroke="#00ff00" stroke-width="3"/><path d="M1390.0,854.0 V890.0" stroke="#00ff00" stroke-width="2.4"/><path d="M1376.0,854.0 H1404.0 M1376.0,890.0 H1404.0" stroke="#00ff00" stroke-width="3"/><path d="M1470.0,968.5 V1009.5" stroke="#00ff00" stroke-width="2.4"/><path d="M1456.0,968.5 H1484.0 M1456.0,1009.5 H1484.0" stroke="#00ff00" stroke-width="3"/><path d="M1550.0,925.0 V993.0" stroke="#00ff00" stroke-width="2.4"/><path d="M1536.0,925.0 H1564.0 M1536.0,993.0 H1564.0" stroke="#00ff00" stroke-width="3"/><path d="M1630.0,917.0 V979.0" stroke="#00ff00" stroke-width="2.4"/><path d="M1616.0,917.0 H1644.0 M1616.0,979.0 H1644.0" stroke="#00ff00" stroke-width="3"/><path d="M1710.0,949.5 V990.5" stroke="#00ff00" stroke-width="2.4"/><path d="M1696.0,949.5 H1724.0 M1696.0,990.5 H1724.0" stroke="#00ff00" stroke-width="3"/><path d="M1790.0,931.0 V985.0" stroke="#00ff00" stroke-width="2.4"/><path d="M1776.0,931.0 H1804.0 M1776.0,985.0 H1804.0" stroke="#00ff00" stroke-width="3"/><path d="M1870.0,889.5 V938.5" stroke="#00ff00" stroke-width="2.4"/><path d="M1856.0,889.5 H1884.0 M1856.0,938.5 H1884.0" stroke="#00ff00" stroke-width="3"/></g>
<g><path d="M350.0,425.7 V493.7" stroke="#b374de" stroke-width="2.4"/><path d="M336.0,425.7 H364.0 M336.0,493.7 H364.0" stroke="#b374de" stroke-width="3"/><path d="M430.0,472.5 V563.5" stroke="#b374de" stroke-width="2.4"/><path d="M416.0,472.5 H444.0 M416.0,563.5 H444.0" stroke="#b374de" stroke-width="3"/><path d="M510.0,576.0 V636.0" stroke="#b374de" stroke-width="2.4"/><path d="M496.0,576.0 H524.0 M496.0,636.0 H524.0" stroke="#b374de" stroke-width="3"/><path d="M590.0,649.5 V717.5" stroke="#b374de" stroke-width="2.4"/><path d="M576.0,649.5 H604.0 M576.0,717.5 H604.0" stroke="#b374de" stroke-width="3"/><path d="M670.0,715.5 V769.5" stroke="#b374de" stroke-width="2.4"/><path d="M656.0,715.5 H684.0 M656.0,769.5 H684.0" stroke="#b374de" stroke-width="3"/><path d="M750.0,761.0 V855.0" stroke="#b374de" stroke-width="2.4"/><path d="M736.0,761.0 H764.0 M736.0,855.0 H764.0" stroke="#b374de" stroke-width="3"/><path d="M830.0,791.0 V848.0" stroke="#b374de" stroke-width="2.4"/><path d="M816.0,791.0 H844.0 M816.0,848.0 H844.0" stroke="#b374de" stroke-width="3"/><path d="M910.0,843.0 V897.0" stroke="#b374de" stroke-width="2.4"/><path d="M896.0,843.0 H924.0 M896.0,897.0 H924.0" stroke="#b374de" stroke-width="3"/><path d="M990.0,814.0 V858.0" stroke="#b374de" stroke-width="2.4"/><path d="M976.0,814.0 H1004.0 M976.0,858.0 H1004.0" stroke="#b374de" stroke-width="3"/><path d="M1070.0,898.0 V938.0" stroke="#b374de" stroke-width="2.4"/><path d="M1056.0,898.0 H1084.0 M1056.0,938.0 H1084.0" stroke="#b374de" stroke-width="3"/><path d="M1150.0,832.0 V938.0" stroke="#b374de" stroke-width="2.4"/><path d="M1136.0,832.0 H1164.0 M1136.0,938.0 H1164.0" stroke="#b374de" stroke-width="3"/><path d="M1230.0,928.6 V1004.6" stroke="#b374de" stroke-width="2.4"/><path d="M1216.0,928.6 H1244.0 M1216.0,1004.6 H1244.0" stroke="#b374de" stroke-width="3"/><path d="M1310.0,972.0 V1012.0" stroke="#b374de" stroke-width="2.4"/><path d="M1296.0,972.0 H1324.0 M1296.0,1012.0 H1324.0" stroke="#b374de" stroke-width="3"/><path d="M1390.0,911.0 V963.0" stroke="#b374de" stroke-width="2.4"/><path d="M1376.0,911.0 H1404.0 M1376.0,963.0 H1404.0" stroke="#b374de" stroke-width="3"/><path d="M1470.0,972.0 V996.0" stroke="#b374de" stroke-width="2.4"/><path d="M1456.0,972.0 H1484.0 M1456.0,996.0 H1484.0" stroke="#b374de" stroke-width="3"/><path d="M1550.0,944.5 V985.5" stroke="#b374de" stroke-width="2.4"/><path d="M1536.0,944.5 H1564.0 M1536.0,985.5 H1564.0" stroke="#b374de" stroke-width="3"/><path d="M1630.0,935.9 V1004.7" stroke="#b374de" stroke-width="2.4"/><path d="M1616.0,935.9 H1644.0 M1616.0,1004.7 H1644.0" stroke="#b374de" stroke-width="3"/><path d="M1710.0,980.0 V1034.0" stroke="#b374de" stroke-width="2.4"/><path d="M1696.0,980.0 H1724.0 M1696.0,1034.0 H1724.0" stroke="#b374de" stroke-width="3"/><path d="M1790.0,953.0 V1043.0" stroke="#b374de" stroke-width="2.4"/><path d="M1776.0,953.0 H1804.0 M1776.0,1043.0 H1804.0" stroke="#b374de" stroke-width="3"/><path d="M1870.0,983.0 V988.0" stroke="#b374de" stroke-width="2.4"/><path d="M1856.0,983.0 H1884.0 M1856.0,988.0 H1884.0" stroke="#b374de" stroke-width="3"/></g>
<text class="tk" transform="translate(241.5,1416.3) scale(1,1.045)" text-anchor="end">0</text>
<text class="tk" transform="translate(241.5,1191.0) scale(1,1.045)" text-anchor="end">100</text>
<text class="tk" transform="translate(241.5,965.6) scale(1,1.045)" text-anchor="end">200</text>
<text class="tk" transform="translate(241.5,740.3) scale(1,1.045)" text-anchor="end">300</text>
<text class="tk" transform="translate(241.5,515.0) scale(1,1.045)" text-anchor="end">400</text>
<text class="tk" transform="translate(241.5,289.6) scale(1,1.045)" text-anchor="end">500</text>
<text class="tk" transform="translate(241.5,64.3) scale(1,1.045)" text-anchor="end">600</text>
<text class="tk" transform="translate(270.0,1476.5) scale(1,1.045)" text-anchor="middle">0</text>
<text class="tk" transform="translate(430.0,1476.5) scale(1,1.045)" text-anchor="middle">10</text>
<text class="tk" transform="translate(590.0,1476.5) scale(1,1.045)" text-anchor="middle">20</text>
<text class="tk" transform="translate(750.0,1476.5) scale(1,1.045)" text-anchor="middle">30</text>
<text class="tk" transform="translate(910.0,1476.5) scale(1,1.045)" text-anchor="middle">40</text>
<text class="tk" transform="translate(1070.0,1476.5) scale(1,1.045)" text-anchor="middle">50</text>
<text class="tk" transform="translate(1230.0,1476.5) scale(1,1.045)" text-anchor="middle">60</text>
<text class="tk" transform="translate(1390.0,1476.5) scale(1,1.045)" text-anchor="middle">70</text>
<text class="tk" transform="translate(1550.0,1476.5) scale(1,1.045)" text-anchor="middle">80</text>
<text class="tk" transform="translate(1710.0,1476.5) scale(1,1.045)" text-anchor="middle">90</text>
<text class="tk" transform="translate(1870.0,1476.5) scale(1,1.045)" text-anchor="middle">100</text>
<rect x="1530.8" y="105.5" width="28.5" height="29.5" fill="#525252"/>
<text class="lg" transform="translate(1651,145.5) scale(0.985,1.025)">15 min</text>
<ellipse cx="1545.0" cy="216.0" rx="16.5" ry="17.5" fill="#f44444"/>
<text class="lg" transform="translate(1651,240.4) scale(0.985,1.025)">30 min</text>
<polygon points="1545.0,288.1 1564.2,323.9 1525.8,323.9" fill="#186ce0"/>
<text class="lg" transform="translate(1651,335.5) scale(0.985,1.025)">60 min</text>
<polygon points="1525.8,394.3 1564.2,394.3 1545.0,427.8" fill="#00ff00"/>
<text class="lg" transform="translate(1651,429.8) scale(0.985,1.025)">120 min</text>
<polygon points="1545.0,479.9 1564.5,499.7 1545.0,519.5 1525.5,499.7" fill="#b374de"/>
<text class="lg" transform="translate(1651,524.0) scale(0.985,1.025)">240 min</text>
<text class="ti" x="636" y="1589" letter-spacing="1">Distance from surface<tspan font-weight="normal">(</tspan>μm<tspan font-weight="normal">)</tspan></text>
<text class="ti" transform="translate(83,1038) rotate(-90)" letter-spacing="1">Hardness<tspan font-weight="normal" font-size="70" dy="1.5">(</tspan><tspan dy="-1.5">HV</tspan><tspan dy="19">0.01</tspan><tspan font-weight="normal" font-size="70" dy="-17.5">)</tspan></text>
</svg></body></html>
